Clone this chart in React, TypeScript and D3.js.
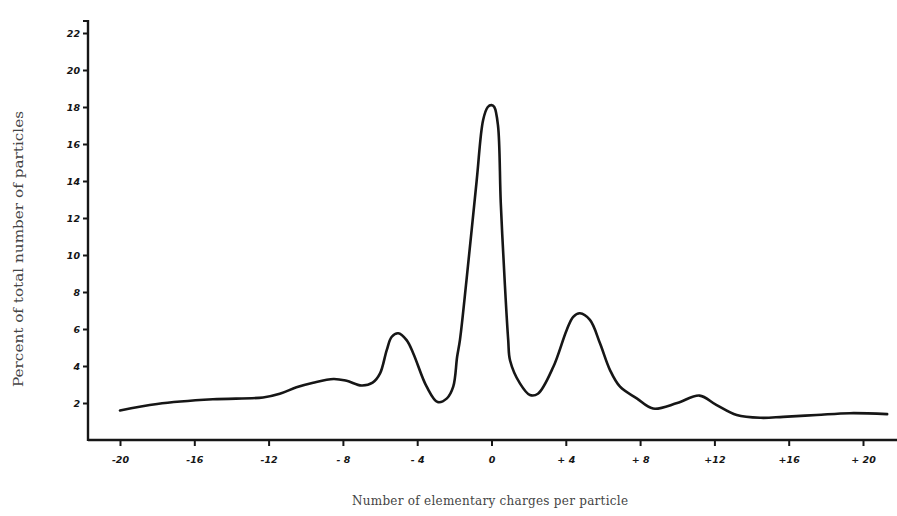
import React, { useEffect, useRef } from 'react'
import * as d3 from 'd3'

// charge number (elementary charges per particle)
const charges = [
  -20, -18, -15, -12.3, -11.4, -10.5, -9.6, -8.5, -7.8, -7.0, -6.4, -6.0, -5.64, -5.37, -5.02,
  -4.57, -4.21, -3.49, -2.9, -2.4, -2.06, -1.85, -1.7, -1.35, -0.8, -0.45, -0.2, 0, 0.15, 0.35,
  0.5, 0.72, 0.9, 1.0, 1.53, 2.07, 2.5, 3.33, 4.05, 4.4, 4.76, 5.3, 5.84, 6.38, 6.92, 7.82,
  8.7, 10, 11.2, 12.1, 13.2, 14.5, 15.7, 17.5, 19.3, 21.3,
]
// percent of total number of particles
const percents = [
  1.6, 1.95, 2.2, 2.3, 2.5, 2.85, 3.1, 3.3, 3.2, 2.95, 3.1, 3.6, 4.86, 5.58, 5.77,
  5.4, 4.68, 2.88, 2.05, 2.25, 2.88, 4.5, 5.4, 8.6, 14.0, 17.3, 18.0, 18.1, 18.0, 17.0,
  12.8, 8.4, 5.4, 4.3, 3.06, 2.43, 2.5, 3.96, 5.95, 6.66, 6.85, 6.49, 5.23, 3.78, 2.88, 2.25,
  1.7, 2.0, 2.4, 1.9, 1.35, 1.2, 1.25, 1.35, 1.45, 1.4,
]

const xTicks = [-20, -16, -12, -8, -4, 0, 4, 8, 12, 16, 20]
const xTickLabels = ['-20', '-16', '-12', '- 8', '- 4', '0', '+ 4', '+ 8', '+12', '+16', '+ 20']
const yTicks = [2, 4, 6, 8, 10, 12, 14, 16, 18, 20, 22]

export default function App() {
  const ref = useRef<SVGSVGElement>(null)

  useEffect(() => {
    document.body.style.margin = '0'
    const svg = d3.select(ref.current)
    svg.selectAll('*').remove()

    const x = d3.scaleLinear().domain([-20, 20]).range([120, 863])
    const y = d3.scaleLinear().domain([0, 22]).range([440, 33])
    const ink = '#161616'

    svg.append('rect').attr('width', 897).attr('height', 516).attr('fill', '#fff')

    // axes
    const xAxis = svg.append('g')
      .attr('transform', `translate(0,${y(0)})`)
      .call(d3.axisBottom(x).tickValues(xTicks).tickSize(6)
        .tickFormat((d, i) => xTickLabels[i]))
    xAxis.select('.domain').remove()
    xAxis.selectAll('line').attr('stroke', ink).attr('stroke-width', 2)
    xAxis.selectAll('text')
      .attr('dy', 14)
      .attr('fill', ink)
      .style('font-family', 'DejaVu Sans')
      .style('font-style', 'italic')
      .style('font-weight', 'bold')
      .style('font-size', '9.5px')

    const yAxis = svg.append('g')
      .attr('transform', `translate(88,0)`)
      .call(d3.axisLeft(y).tickValues(yTicks).tickSize(5).tickPadding(3))
    yAxis.select('.domain').remove()
    yAxis.selectAll('line').attr('stroke', ink).attr('stroke-width', 2)
    yAxis.selectAll('text')
      .attr('fill', ink)
      .style('font-family', 'DejaVu Sans')
      .style('font-style', 'italic')
      .style('font-weight', 'bold')
      .style('font-size', '9.5px')

    svg.append('line')
      .attr('x1', 88).attr('x2', 897)
      .attr('y1', y(0)).attr('y2', y(0))
      .attr('stroke', ink).attr('stroke-width', 2.4)
    svg.append('line')
      .attr('x1', 88).attr('x2', 88)
      .attr('y1', y(0) + 1).attr('y2', 20)
      .attr('stroke', ink).attr('stroke-width', 2.4)
    svg.append('line')
      .attr('x1', 88).attr('x2', 83)
      .attr('y1', 21).attr('y2', 21)
      .attr('stroke', ink).attr('stroke-width', 2)

    // curve
    const pts = charges.map((c, i) => [c, percents[i]] as [number, number])
    const line = d3.line<[number, number]>()
      .x(d => x(d[0]))
      .y(d => y(d[1]))
      .curve(d3.curveCatmullRom.alpha(0.5))
    svg.append('path')
      .datum(pts)
      .attr('d', line)
      .attr('fill', 'none')
      .attr('stroke', ink)
      .attr('stroke-width', 2.6)
      .attr('stroke-linejoin', 'round')
      .attr('stroke-linecap', 'round')

    // titles
    svg.append('text')
      .attr('x', 490).attr('y', 505)
      .attr('text-anchor', 'middle')
      .attr('textLength', 276)
      .attr('fill', '#444')
      .style('font-family', 'DejaVu Serif')
      .style('font-size', '12px')
      .text('Number of elementary charges per particle')

    svg.append('text')
      .attr('transform', 'translate(23,249) rotate(-90)')
      .attr('text-anchor', 'middle')
      .attr('textLength', 276)
      .attr('lengthAdjust', 'spacingAndGlyphs')
      .attr('fill', '#444')
      .style('font-family', 'DejaVu Serif')
      .style('font-size', '13.5px')
      .text('Percent of total number of particles')
  }, [])

  return <svg ref={ref} width={897} height={516} style={{ display: 'block' }}></svg>
}
